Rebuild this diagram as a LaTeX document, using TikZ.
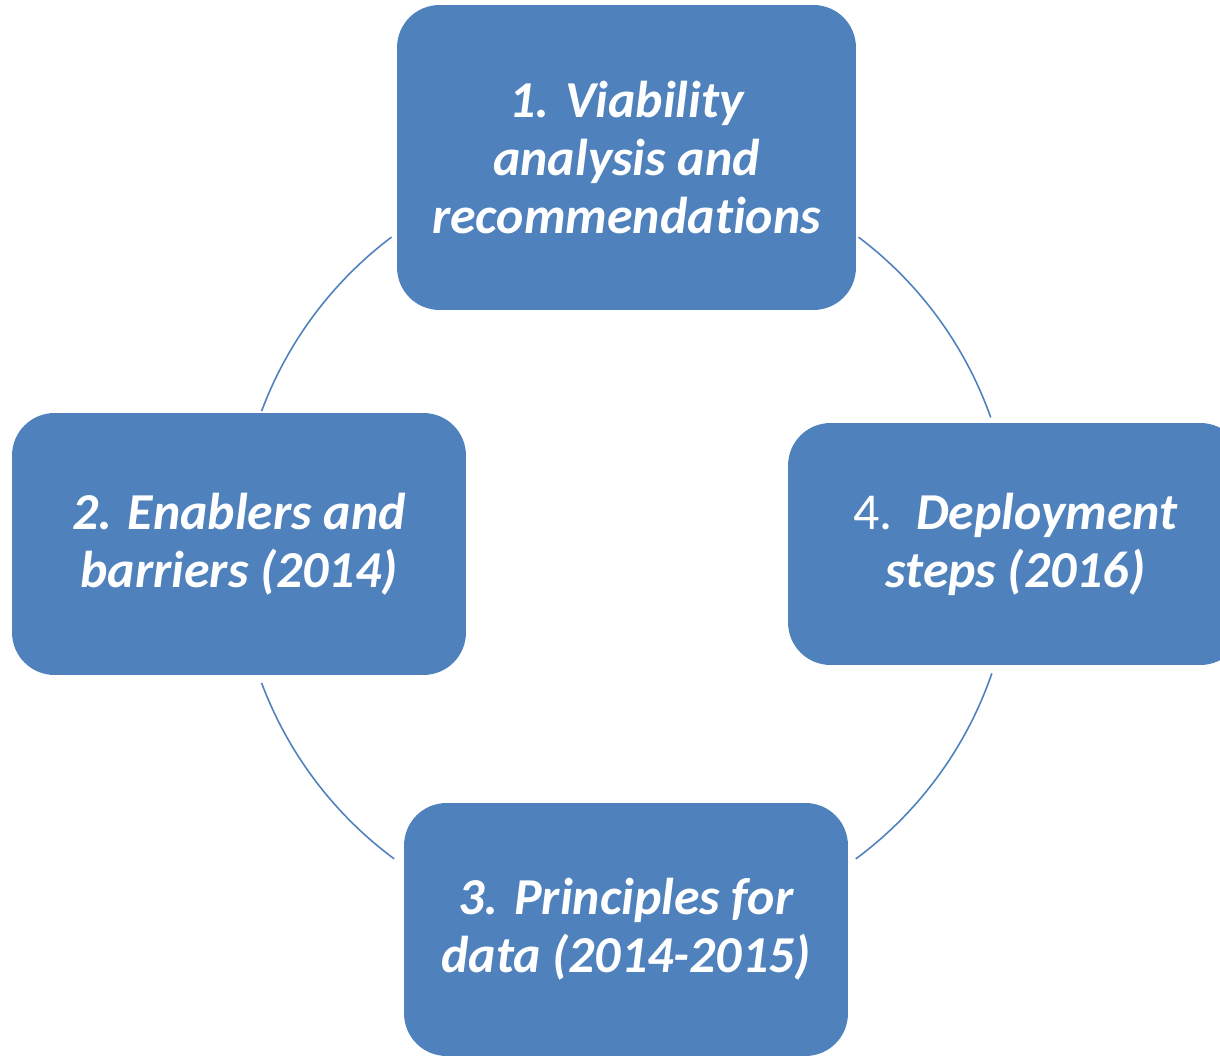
\documentclass[tikz,border=0pt]{standalone}
\usepackage{fontspec}
\setmainfont{Carlito}[Ligatures=NoCommon]
\usepackage{tikz}
\usetikzlibrary{positioning,calc}
\definecolor{stageblue}{HTML}{4F81BD}

\begin{document}
\begin{tikzpicture}[x=0.02cm,y=0.02cm,
  stage/.style={fill=stageblue,rounded corners=0.85cm,text=white,align=center,inner sep=0pt,
    font=\fontsize{29.5}{33}\selectfont\bfseries\itshape},
  ring/.style={stageblue,line width=0.9pt}]
\useasboundingbox (0,0) rectangle (1220,1056);
\coordinate (O) at (625,509);
\node[stage,minimum width=9.18cm,minimum height=6.1cm] (viab) at (626.5,898.5)
  {1. Viability\\analysis and\\recommendations};
\node[stage,minimum width=9.08cm,minimum height=5.24cm] (enab) at (239,512)
  {2. Enablers and\\barriers (2014)};
\node[stage,minimum width=8.88cm,minimum height=5.06cm] (prin) at (626,126.5)
  {3. Principles for\\data (2014-2015)};
\node[stage,minimum width=9.1cm,minimum height=4.84cm] (depl) at (1015.5,512)
  {{\mdseries\upshape 4.}\ \ Deployment\\steps (2016)};
% arcs of the cycle between the boxes
\draw[ring] ($(O)+(127:388)$) arc[start angle=127,end angle=159.5,radius=7.76cm];
\draw[ring] ($(O)+(200.5:388)$) arc[start angle=200.5,end angle=233.5,radius=7.76cm];
\draw[ring] ($(O)+(306.5:388)$) arc[start angle=306.5,end angle=341,radius=7.76cm];
\draw[ring] ($(O)+(19.5:388)$) arc[start angle=19.5,end angle=53,radius=7.76cm];
\end{tikzpicture}
\end{document}
